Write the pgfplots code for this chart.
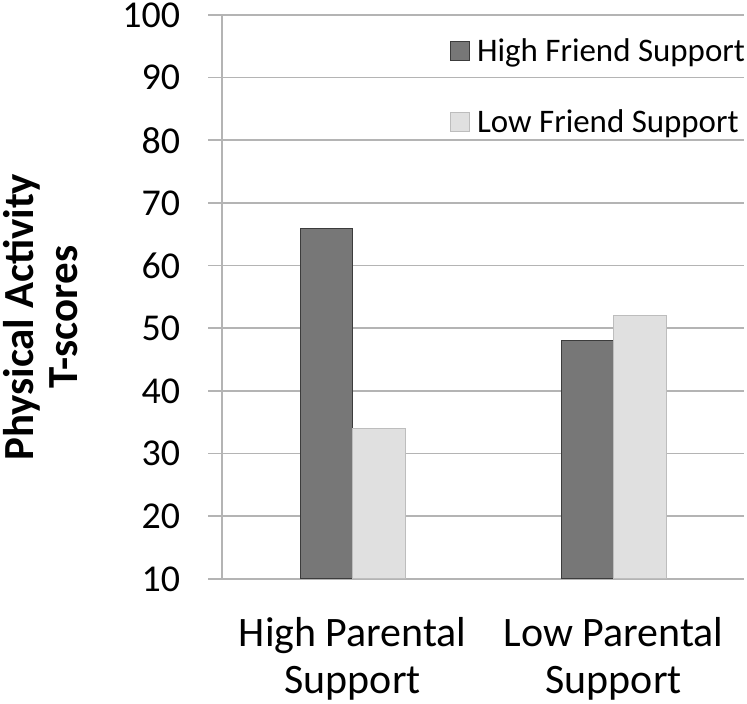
\documentclass[border=0pt]{standalone}
\usepackage{fontspec}
\setmainfont{Carlito}
\usepackage{pgfplots}
\pgfplotsset{compat=1.18}
\definecolor{darkbar}{HTML}{777777}
\definecolor{darkedge}{HTML}{3C3C3C}
\definecolor{lightbar}{HTML}{E0E0E0}
\definecolor{lightedge}{HTML}{BDBDBD}
\definecolor{gridc}{HTML}{B4B4B4}
\begin{document}
\begin{tikzpicture}
\begin{axis}[
  at={(0pt,0pt)}, anchor=south west,
  scale only axis, width=523pt, height=565pt,
  xmin=0.5, xmax=2.5, ymin=10, ymax=100,
  ytick={10,20,...,100},
  xtick={1,2},
  xticklabels={{High Parental\\Support},{Low Parental\\Support}},
  ybar, bar width=52.5pt,
  axis x line*=bottom, axis y line*=left,
  ymajorgrids, grid style={draw=gridc, line width=1.6pt},
  axis line style={draw=gridc, line width=1.6pt},
  xtick style={draw=none},
  ytick style={draw=gridc, line width=1.6pt},
  tick align=outside, major tick length=14pt,
  /pgf/number format/assume math mode=true,
  yticklabel style={font=\fontsize{38}{44}\selectfont, inner sep=0pt, xshift=-28pt},
  xticklabel style={font=\fontsize{42}{47}\selectfont, align=center, inner sep=0pt, yshift=-24pt},
  ylabel={Physical Activity\\T-scores},
  ylabel style={font=\bfseries\fontsize{43}{44}\selectfont, align=center, at={(axis description cs:-0.348,0.464)}, anchor=center},
  legend style={draw=none, fill=none, at={(axis description cs:1,0.962)}, anchor=north east, xshift=3pt,
    font=\fontsize{33}{38}\selectfont, row sep=43pt, inner sep=0pt},
  legend cell align=left,
]
\addlegendimage{legend image code/.code={\draw[fill=darkbar, draw=darkedge, line width=1pt] (0pt,-9.5pt) rectangle (19pt,9.5pt); \path (24pt,0pt);}}
\addlegendentry{High Friend Support}
\addlegendimage{legend image code/.code={\draw[fill=lightbar, draw=lightedge, line width=1pt] (0pt,-9.5pt) rectangle (19pt,9.5pt); \path (24pt,0pt);}}
\addlegendentry{Low Friend Support}
\addplot[fill=darkbar, draw=darkedge, line width=1pt, forget plot, bar shift=-26.25pt] coordinates {(1,66) (2,48)};
\addplot[fill=lightbar, draw=lightedge, line width=1pt, forget plot, bar shift=26.25pt] coordinates {(1,34) (2,52)};
\end{axis}
\path[use as bounding box] (-222pt,-125pt) rectangle (525pt,580pt);
\end{tikzpicture}
\end{document}
